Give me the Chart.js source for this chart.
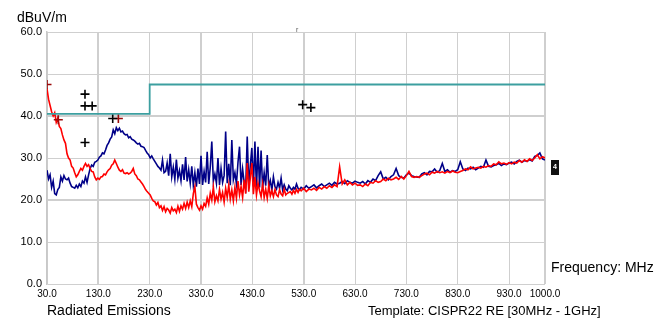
<!DOCTYPE html>
<html>
<head>
<meta charset="utf-8">
<script src="https://cdn.jsdelivr.net/npm/chart.js@4.4.1/dist/chart.umd.min.js"></script>
<style>
  html, body { margin: 0; padding: 0; background: #fff; }
  #wrap { width: 668px; height: 320px; }
</style>
</head>
<body>
<div id="wrap"><canvas id="emi-chart" width="668" height="320"></canvas></div>
<script>
// sweep frequencies (MHz)
const freqLow = [
  30, 33, 36, 39, 42, 45, 48, 51, 54, 57,
  60, 63, 66, 69, 72, 75, 78, 81, 84, 87,
  90, 93, 96, 99, 102, 105, 108, 111, 114, 117,
  120, 123, 126, 129, 132, 135, 138, 141, 144, 147,
  150, 153, 156, 159, 162, 165, 168, 171, 174, 177,
  180, 183, 186, 189, 192, 195, 198, 201, 204, 207,
  210, 213, 216, 219, 222, 225, 228, 231, 234, 237,
  240, 243, 246, 249, 252, 255, 258, 261, 264, 267,
  270, 273, 276, 279, 282, 285, 288, 291, 294, 297,
  300, 303, 306, 309, 312, 315, 318, 321, 324, 327,
  330, 333, 336, 339, 342, 345, 348, 351, 354, 357,
  360, 363, 366, 369, 372, 375, 378, 381, 384, 387,
  390, 393, 396, 399, 402, 405, 408, 411, 414, 417,
  420, 423, 426, 429, 432, 435, 438, 441, 444, 447,
  450, 453, 456, 459, 462, 465, 468, 471, 474, 477,
  480, 483, 486, 489, 492, 495, 498, 501, 504, 507,
  510, 513, 516, 519, 522
];
const freqHigh = [
  525, 530, 535, 540, 545, 550, 555, 560, 565, 570,
  575, 580, 585, 590, 595, 600, 605, 610, 615, 620,
  625, 630, 635, 640, 645, 650, 655, 660, 665, 670,
  675, 680, 685, 690, 695, 700, 705, 710, 715, 720,
  725, 730, 735, 740, 745, 750, 755, 760, 765, 770,
  775, 780, 785, 790, 795, 800, 805, 810, 815, 820,
  825, 830, 835, 840, 845, 850, 855, 860, 865, 870,
  875, 880, 885, 890, 895, 900, 905, 910, 915, 920,
  925, 930, 935, 940, 945, 950, 955, 960, 965, 970,
  975, 980, 985, 990, 995, 1000
];
const freqs = freqLow.concat(freqHigh);

// blue trace (dBuV/m)
const blueTrace = [
  27.1, 25.0, 26.0, 23.0, 24.5, 21.5, 21.2, 22.5, 23.0, 25.5,
  24.5, 25.8, 25.0, 24.8, 25.2, 24.0, 23.2, 23.0, 22.8, 23.5,
  22.9, 23.8, 23.2, 24.5, 24.0, 25.5, 24.2, 26.0, 27.5, 28.3,
  28.0, 29.0, 29.2, 29.5, 30.2, 30.5, 31.2, 31.0, 31.9, 33.0,
  33.6, 34.5, 35.0, 36.7, 35.8, 37.2, 36.5, 37.1, 36.2, 36.4,
  35.8, 35.5, 35.6, 34.8, 35.1, 34.5, 34.3, 34.0, 33.6, 33.3,
  33.5, 32.8, 32.7, 32.5, 31.8, 31.2, 30.8, 30.0, 30.5, 29.8,
  29.2, 28.6, 28.0, 27.6, 27.1, 29.5, 26.5, 26.8, 28.8, 25.8,
  31.0, 25.5, 27.8, 24.9, 29.6, 25.2, 27.0, 24.6, 28.5, 24.8,
  30.2, 24.4, 27.2, 24.0, 28.0, 23.5, 26.5, 23.2, 27.5, 23.8,
  30.5, 23.6, 26.8, 24.2, 31.5, 23.8, 27.8, 33.9, 24.5, 26.2,
  24.0, 30.0, 23.6, 27.5, 24.2, 25.8, 36.3, 24.0, 28.6, 23.5,
  34.3, 24.8, 26.5, 23.8, 29.0, 32.7, 23.6, 27.4, 24.2, 22.8,
  35.1, 23.5, 28.2, 32.4, 23.2, 33.9, 22.6, 32.7, 23.0, 31.8,
  22.8, 26.5, 23.4, 30.7, 23.0, 24.6, 22.4, 25.5, 23.2, 22.6,
  24.2, 22.8, 25.2, 22.4, 23.6, 22.6, 22.2, 23.4, 22.8, 22.4,
  23.0, 22.6, 23.8, 22.8, 22.5,
  23.0, 22.6, 23.4, 22.8, 23.2, 23.6, 22.9, 23.4, 23.8, 23.2,
  23.6, 24.0, 23.5, 24.2, 23.8, 24.0, 24.4, 23.9, 24.6, 24.2,
  24.0, 24.5, 24.2, 24.0, 24.4, 23.8, 24.6, 24.2, 25.0, 24.6,
  25.8, 26.7, 25.0, 25.4, 24.8, 25.6, 26.0, 27.5, 25.8, 25.4,
  25.2, 26.0, 26.4, 25.8, 25.6, 25.5, 25.4, 26.2, 26.5, 26.0,
  26.8, 26.7, 27.4, 26.6, 27.0, 28.7, 26.8, 27.2, 26.6, 27.0,
  26.8, 27.2, 29.1, 27.4, 27.0, 27.6, 27.4, 27.8, 27.2, 27.6,
  28.0, 27.8, 29.5, 28.0, 27.9, 28.2, 28.4, 28.7, 28.2, 28.6,
  28.4, 28.8, 29.0, 28.6, 29.2, 29.5, 29.0, 29.4, 29.2, 29.6,
  29.3, 30.4, 30.6, 31.2, 29.8, 29.5
];

// red trace (dBuV/m)
const redTrace = [
  46.5, 44.0, 42.5, 41.0, 40.0, 40.8, 38.5, 39.5, 37.5, 37.0,
  35.5, 34.3, 33.5, 31.0, 30.0, 29.5, 28.0, 27.6, 26.5, 25.5,
  26.0, 26.8, 27.5, 27.1, 28.0, 28.7, 28.0, 28.4, 27.5, 26.8,
  26.7, 25.5, 24.8, 25.2, 24.9, 25.5, 25.6, 26.2, 26.0, 26.7,
  27.2, 27.5, 28.3, 28.6, 29.5, 28.7, 27.8, 27.1, 26.8, 27.2,
  26.4, 26.3, 26.5, 26.2, 26.4, 26.8, 27.5, 26.2, 25.8, 25.0,
  24.8, 24.3, 23.8, 23.2, 22.5, 22.0, 21.6, 21.2, 20.4, 19.8,
  19.6, 18.8, 19.4, 18.2, 18.6, 17.5, 18.4, 17.2, 18.0, 17.6,
  16.9, 18.2, 17.4, 17.8, 17.0, 18.5, 17.3, 18.6, 17.8, 19.2,
  18.0, 19.5, 18.2, 19.8, 18.4, 21.5, 23.2, 19.0, 18.2, 17.6,
  18.6, 17.8, 19.2, 18.5, 20.5, 19.0, 21.6, 20.0, 23.1, 19.6,
  21.0, 19.8, 22.5, 20.2, 21.8, 19.5, 22.8, 20.6, 23.6, 20.2,
  22.4, 19.8, 23.0, 20.4, 24.5, 21.2, 23.2, 20.6, 24.8, 21.5,
  28.8, 22.0, 25.2, 28.8, 21.4, 25.5, 21.2, 24.0, 22.2, 20.8,
  23.8, 20.6, 22.6, 20.4, 23.5, 21.0, 22.2, 20.8, 22.5, 21.2,
  20.8, 22.4, 21.4, 21.0, 22.6, 21.2, 21.6, 21.8, 22.0, 21.4,
  22.3, 21.6, 22.5, 21.8, 22.6,
  22.2, 22.8, 22.0, 22.6, 22.4, 22.8, 22.3, 23.0, 22.6, 23.2,
  22.8, 23.4, 23.0, 23.6, 23.2, 27.9, 23.8, 24.8, 23.6, 24.2,
  23.6, 24.0, 23.5, 23.6, 23.2, 23.8, 23.4, 24.2, 24.0, 24.6,
  24.2, 24.4, 25.0, 24.6, 25.2, 24.8, 25.0, 25.4, 24.9, 25.6,
  25.0, 25.8, 26.8, 25.6, 25.4, 25.6, 25.4, 25.8, 26.2, 26.4,
  26.0, 26.6, 26.4, 26.8, 26.5, 26.7, 26.4, 26.8, 26.5, 26.9,
  26.6, 26.5, 26.8, 27.0, 27.4, 27.2, 27.9, 27.4, 27.6, 27.8,
  27.6, 28.0, 27.8, 28.2, 28.0, 28.6, 28.4, 29.1, 28.6, 28.8,
  28.5, 28.9, 28.6, 29.0, 28.8, 29.4, 29.0, 29.6, 29.2, 29.8,
  29.4, 30.0, 30.8, 29.8, 30.3, 30.0
];

// CISPR22 class B limit (step)
const limitFreq = [30, 230, 230, 1000];
const limitLevel = [40.5, 40.5, 47.5, 47.5];

// peak markers
const blackMarkFreq = [104, 104, 118, 104, 158, 528, 544];
const blackMarkLevel = [45.2, 42.4, 42.4, 33.7, 39.4, 42.7, 42.0];
const redMarkFreq = [30, 52, 169];
const redMarkLevel = [47.5, 39.1, 39.4];

const xTicks = [30, 130, 230, 330, 430, 530, 630, 730, 830, 930, 1000];
const thickX = [130, 330, 530, 1000];
const thickY = [20, 40];

const toPoints = (xs, ys) => xs.map((x, i) => ({ x: x, y: ys[i] }));
const FONT = "'Liberation Sans', Arial, sans-serif";

const textPlugin = {
  id: "emiText",
  afterDraw(chart) {
    const ctx = chart.ctx;
    ctx.save();
    ctx.fillStyle = "#000";
    ctx.font = "14px " + FONT;
    ctx.textBaseline = "middle";
    ctx.textAlign = "left";
    ctx.fillText("dBuV/m", 17, 18);
    ctx.fillText("Frequency: MHz", 551, 268);
    ctx.fillText("Radiated Emissions", 47, 311);
    ctx.font = "13px " + FONT;
    ctx.fillText("Template: CISPR22 RE [30MHz - 1GHz]", 368, 311);
    ctx.font = "7px " + FONT;
    ctx.fillStyle = "#555";
    ctx.fillText("r", 296, 30);
    // trace tag box at right end
    ctx.fillStyle = "#111";
    ctx.fillRect(551, 160, 8, 15);
    ctx.fillStyle = "#fff";
    ctx.font = "bold 7px " + FONT;
    ctx.textAlign = "center";
    ctx.fillText("4", 555, 167);
    ctx.restore();
  }
};

new Chart(document.getElementById("emi-chart"), {
  type: "line",
  data: {
    datasets: [
      {
        label: "limit",
        data: toPoints(limitFreq, limitLevel),
        borderColor: "#3c9fa0",
        borderWidth: 1.8,
        pointRadius: 0,
        order: 0
      },
      {
        label: "black peaks",
        data: toPoints(blackMarkFreq, blackMarkLevel),
        showLine: false,
        pointStyle: "cross",
        pointRadius: 4.5,
        borderColor: "#000",
        borderWidth: 1.6,
        order: 0
      },
      {
        label: "red peaks",
        data: toPoints(redMarkFreq, redMarkLevel),
        showLine: false,
        pointStyle: "cross",
        pointRadius: 4.5,
        borderColor: "#9a0a0a",
        borderWidth: 1.6,
        order: 0
      },
      {
        label: "horizontal",
        data: toPoints(freqs, redTrace),
        borderColor: "#ff0000",
        borderWidth: 1.6,
        pointRadius: 0,
        order: 1
      },
      {
        label: "vertical",
        data: toPoints(freqs, blueTrace),
        borderColor: "#000088",
        borderWidth: 1.6,
        pointRadius: 0,
        order: 2
      }
    ]
  },
  options: {
    responsive: false,
    animation: false,
    layout: { padding: { top: 32, right: 123, bottom: 0, left: 0 } },
    plugins: { legend: { display: false }, tooltip: { enabled: false } },
    scales: {
      x: {
        type: "linear",
        min: 30,
        max: 1000,
        afterBuildTicks: (scale) => {
          scale.ticks = xTicks.map((v) => ({ value: v }));
        },
        afterFit: (scale) => { scale.height = 36; },
        grid: {
          color: "#cfcfcf",
          lineWidth: (c) => (thickX.includes(c.tick && c.tick.value) ? 2 : 1),
          drawTicks: false
        },
        border: { display: false },
        ticks: {
          padding: 4,
          maxRotation: 0,
          autoSkip: false,
          color: "#000",
          font: { family: FONT, size: 10 },
          callback: (v) => Number(v).toFixed(1)
        }
      },
      y: {
        min: 0,
        max: 60,
        afterFit: (scale) => { scale.width = 47; },
        grid: {
          color: "#cfcfcf",
          lineWidth: (c) => (thickY.includes(c.tick && c.tick.value) ? 2 : 1),
          drawTicks: false
        },
        border: { color: "#c8c8c8", width: 1.5 },
        ticks: {
          stepSize: 10,
          padding: 5,
          color: "#000",
          font: { family: FONT, size: 11 },
          callback: (v) => Number(v).toFixed(1)
        }
      }
    }
  },
  plugins: [textPlugin]
});
</script>
</body>
</html>
